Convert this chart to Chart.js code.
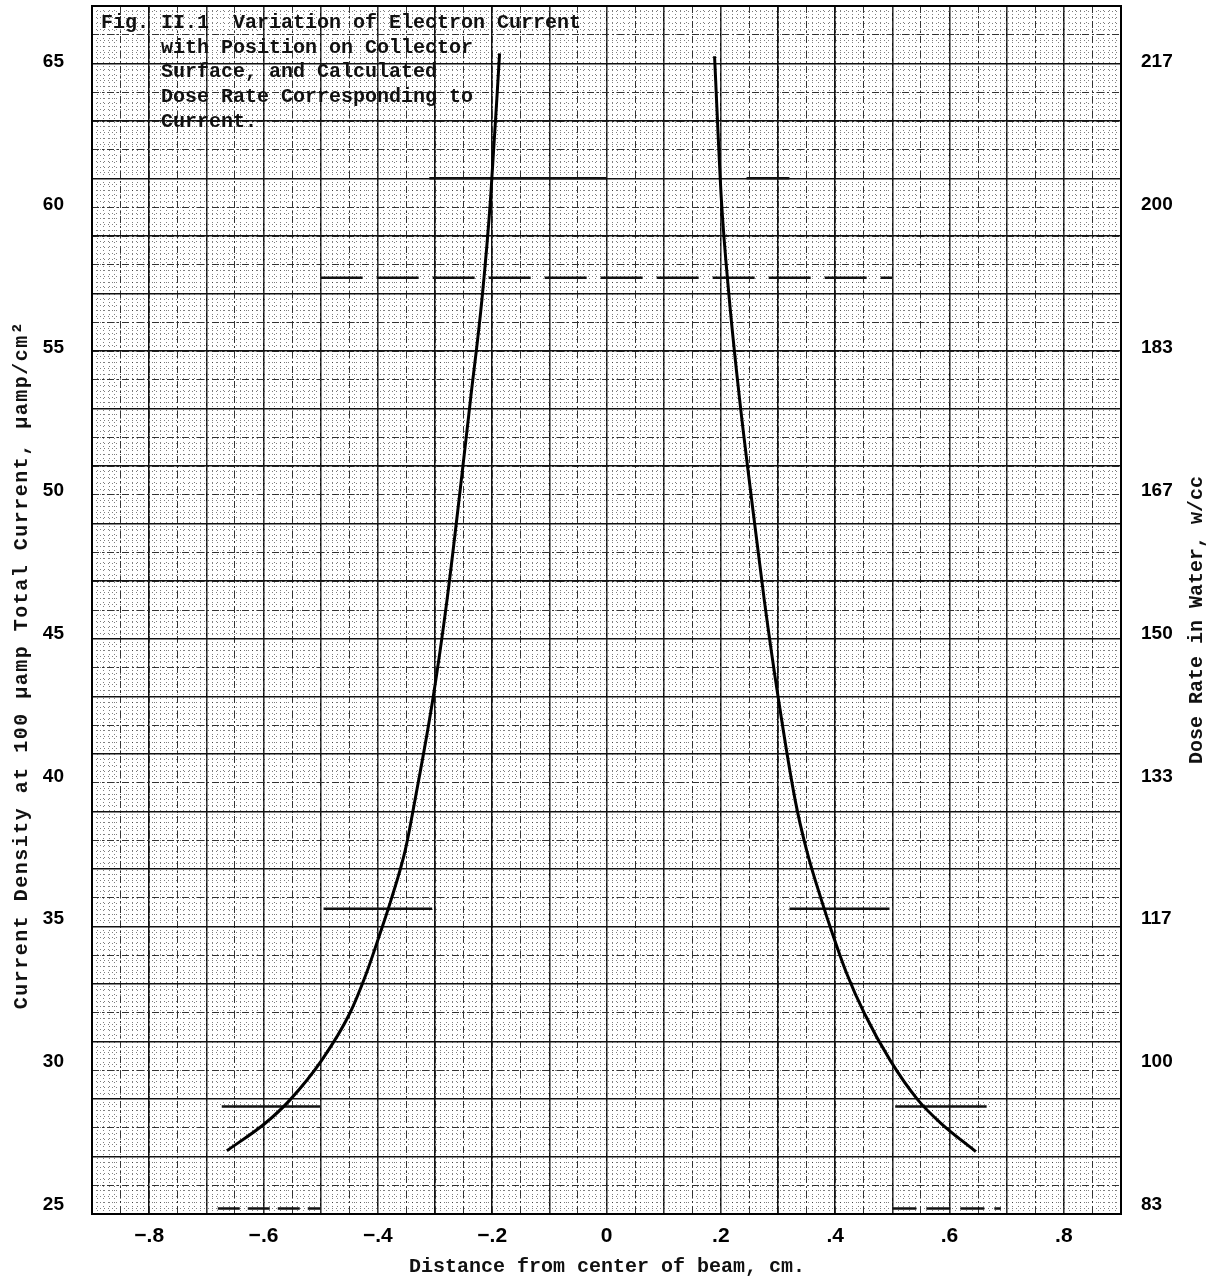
<!DOCTYPE html>
<html>

<head>
    <meta charset="utf-8" />
    <title>Variation of Electron Current with Position on Collector Surface</title>
    <script src="https://cdn.jsdelivr.net/npm/chart.js"></script>
    <style>
        body { margin: 0; background: #fff; }
        canvas { display: block; }
    </style>
</head>

<body>
    <canvas id="myChart" width="1216" height="1281"></canvas>

    <script type="text/javascript">
        // tick values and labels
        const xTickValues = [-0.8, -0.6, -0.4, -0.2, 0, 0.2, 0.4, 0.6, 0.8];
        const xTickLabels = ['\u2212.8', '\u2212.6', '\u2212.4', '\u2212.2', '0', '.2', '.4', '.6', '.8'];
        const yTickValues = [25, 30, 35, 40, 45, 50, 55, 60, 65];
        const yTickLabels = ['25', '30', '35', '40', '45', '50', '55', '60', '65'];
        const doseTickLabels = ['83', '100', '117', '133', '150', '167', '183', '200', '217'];

        // measured curve, left branch (x ascending)
        const leftX = [-0.664, -0.597, -0.554, -0.498, -0.449, -0.420, -0.396, -0.377, -0.352, -0.335, -0.304, -0.279, -0.258, -0.238, -0.218, -0.203, -0.187];
        const leftY = [26.90, 27.86, 28.67, 30.07, 31.71, 33.11, 34.51, 35.67, 37.42, 39.17, 42.67, 46.17, 49.67, 53.17, 56.67, 60.17, 65.30];

        // right branch (x ascending)
        const rightX = [0.189, 0.201, 0.215, 0.233, 0.254, 0.276, 0.301, 0.330, 0.350, 0.376, 0.395, 0.420, 0.451, 0.496, 0.545, 0.585, 0.646];
        const rightY = [65.20, 60.17, 56.67, 53.17, 49.67, 46.17, 42.67, 39.17, 37.42, 35.67, 34.51, 33.11, 31.71, 30.07, 28.67, 27.86, 26.87];

        // short horizontal marks drawn on the sheet
        const solidMarkY = [60.93, 60.93, 35.37, 35.37, 28.45, 28.45];
        const solidMarkX0 = [-0.31, 0.245, -0.495, 0.32, -0.673, 0.505];
        const solidMarkX1 = [0.0, 0.32, -0.305, 0.495, -0.50, 0.665];
        const dashMarkY = [57.45, 24.88, 24.88];
        const dashMarkX0 = [-0.50, -0.68, 0.50];
        const dashMarkX1 = [0.50, -0.50, 0.69];
        const dashMarkPattern = [[42, 14], [22, 8], [24, 10]];

        const xMin = -0.9, xMax = 0.9;
        const yMin = 24.685, yMax = 66.96;

        const toPoints = (xs, ys) => xs.map((x, i) => ({ x: x, y: ys[i] }));

        const datasets = [];
        datasets.push({
            data: toPoints(leftX, leftY), xAxisID: 'x', yAxisID: 'y', showLine: true,
            borderColor: '#000', borderWidth: 3, pointRadius: 0, cubicInterpolationMode: 'monotone'
        });
        datasets.push({
            data: toPoints(rightX, rightY), xAxisID: 'x', yAxisID: 'y', showLine: true,
            borderColor: '#000', borderWidth: 3, pointRadius: 0, cubicInterpolationMode: 'monotone'
        });
        for (let i = 0; i < solidMarkY.length; i++) {
            datasets.push({
                data: [{ x: solidMarkX0[i], y: solidMarkY[i] }, { x: solidMarkX1[i], y: solidMarkY[i] }],
                xAxisID: 'x', yAxisID: 'y', showLine: true, borderColor: '#111', borderWidth: 2.5, pointRadius: 0
            });
        }
        for (let i = 0; i < dashMarkY.length; i++) {
            datasets.push({
                data: [{ x: dashMarkX0[i], y: dashMarkY[i] }, { x: dashMarkX1[i], y: dashMarkY[i] }],
                xAxisID: 'x', yAxisID: 'y', showLine: true, borderColor: '#111', borderWidth: 2.5,
                pointRadius: 0, borderDash: dashMarkPattern[i]
            });
        }

        // helpers for the graph-paper rulings
        const rangeTicks = n => { const t = []; for (let i = 0; i <= n; i++) t.push({ value: i }); return t; };
        const paperScale = (pos, n, color, width, dash) => ({
            type: 'linear', position: pos, min: 0, max: n,
            ticks: { display: false },
            border: { display: false, dash: dash },
            grid: { color: color, lineWidth: width, drawTicks: false },
            afterBuildTicks: s => { s.ticks = rangeTicks(n); },
            afterFit: s => {
                if (pos === 'bottom') s.height = 0; else s.width = 0;
                s.paddingTop = 0; s.paddingBottom = 0; s.paddingLeft = 0; s.paddingRight = 0;
            }
        });

        const tickFont = { family: "'Liberation Sans', Arial, sans-serif", size: 19, weight: 'bold' };

        // figure caption, axis titles and frame
        const sheetText = {
            id: 'sheetText',
            afterDatasetsDraw(chart) {
                const ctx = chart.ctx;
                const a = chart.chartArea;
                ctx.save();
                ctx.fillStyle = '#111';
                ctx.textBaseline = 'middle';
                ctx.font = "bold 20px 'Liberation Mono', monospace";
                ctx.textAlign = 'left';
                ctx.fillText('Fig. II.1  Variation of Electron Current', 101, 23);
                ctx.fillText('with Position on Collector', 161, 48);
                ctx.fillText('Surface, and Calculated', 161, 72);
                ctx.fillText('Dose Rate Corresponding to', 161, 97);
                ctx.fillText('Current.', 161, 122);

                ctx.textAlign = 'center';
                ctx.fillText('Distance from center of beam, cm.', 607, 1267);

                ctx.save();
                ctx.translate(1197, 620);
                ctx.rotate(-Math.PI / 2);
                ctx.fillText('Dose Rate in Water, w/cc', 0, 0);
                ctx.restore();

                ctx.save();
                ctx.translate(22, 665);
                ctx.rotate(-Math.PI / 2);
                ctx.letterSpacing = '1.5px';
                ctx.fillText('Current Density at 100 \u00b5amp Total Current, \u00b5amp/cm\u00b2', 0, 0);
                ctx.restore();

                ctx.strokeStyle = '#000';
                ctx.lineWidth = 2;
                ctx.strokeRect(a.left, a.top, a.right - a.left, a.bottom - a.top);
                ctx.restore();
            }
        };

        const ctx = document.getElementById('myChart');
        const chart = new Chart(ctx, {
            type: 'scatter',
            data: { datasets: datasets },
            plugins: [sheetText],
            options: {
                responsive: false,
                animation: false,
                devicePixelRatio: 1,
                layout: { padding: { top: 6, left: 0, right: 0, bottom: 0 } },
                plugins: { legend: { display: false }, tooltip: { enabled: false } },
                scales: {
                    x: {
                        type: 'linear', position: 'bottom', min: xMin, max: xMax,
                        grid: { color: '#111', lineWidth: 1.5, drawTicks: false },
                        border: { display: false },
                        afterBuildTicks: s => {
                            const t = [];
                            for (let i = -9; i <= 9; i++) t.push({ value: i / 10 });
                            s.ticks = t;
                        },
                        ticks: {
                            autoSkip: false, maxRotation: 0, padding: 10, color: '#000',
                            font: { family: "'Liberation Sans', Arial, sans-serif", size: 21, weight: 'bold' },
                            callback: v => {
                                const i = xTickValues.findIndex(t => Math.abs(t - v) < 1e-6);
                                return i >= 0 ? xTickLabels[i] : '';
                            }
                        },
                        afterFit: s => { s.height = 67; s.paddingLeft = 0; s.paddingRight = 0; }
                    },
                    y: {
                        type: 'linear', position: 'left', min: yMin, max: yMax,
                        grid: { display: false },
                        border: { display: false },
                        afterBuildTicks: s => { s.ticks = yTickValues.map(v => ({ value: v })); },
                        ticks: {
                            autoSkip: false, padding: 20, color: '#000', font: tickFont,
                            callback: v => {
                                const i = yTickValues.indexOf(v);
                                return i >= 0 ? yTickLabels[i] : '';
                            }
                        },
                        afterFit: s => { s.width = 92; s.paddingTop = 0; s.paddingBottom = 0; }
                    },
                    yRight: {
                        type: 'linear', position: 'right', min: yMin, max: yMax,
                        grid: { display: false },
                        border: { display: false },
                        afterBuildTicks: s => { s.ticks = yTickValues.map(v => ({ value: v })); },
                        ticks: {
                            autoSkip: false, padding: 12, color: '#000', font: tickFont,
                            callback: v => {
                                const i = yTickValues.indexOf(v);
                                return i >= 0 ? doseTickLabels[i] : '';
                            }
                        },
                        afterFit: s => { s.width = 95; s.paddingTop = 0; s.paddingBottom = 0; }
                    },
                    xMinor: paperScale('bottom', 180, 'rgba(0,0,0,0.5)', 1, [1, 3]),
                    yMinor: paperScale('left', 210, 'rgba(0,0,0,0.5)', 1, [1, 3]),
                    xHalf: paperScale('bottom', 36, '#333', 1, [7, 3, 2, 3]),
                    yHalf: paperScale('left', 42, '#333', 1, [7, 3, 2, 3]),
                    yHeavy: paperScale('left', 21, '#111', 1.5, [])
                }
            }
        });
    </script>

</body>

</html>
